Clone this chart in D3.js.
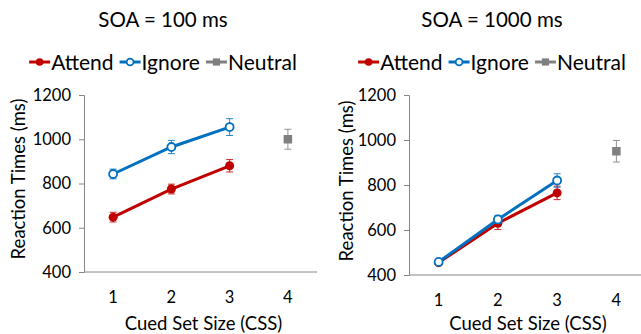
<!DOCTYPE html>
<html>
<head>
<meta charset="utf-8">
<script src="https://cdn.jsdelivr.net/npm/d3@7/dist/d3.min.js"></script>
<style>
  html, body { margin: 0; padding: 0; background: #fff; }
  svg { display: block; font-family: Lato, "Open Sans", sans-serif; }
</style>
</head>
<body>
<svg id="chart" width="641" height="334"></svg>
<script>
// Cued set size categories and y-axis ticks
const categories = ["1", "2", "3", "4"];
const yTicks = [400, 600, 800, 1000, 1200];

// SOA = 100 ms
const attend100 = [648, 775, 880];
const attendErr100 = [22, 22, 28];
const ignore100 = [843, 965, 1055];
const ignoreErr100 = [22, 30, 38];
const neutral100 = [1000];
const neutralErr100 = [45];

// SOA = 1000 ms
const attend1000 = [455, 630, 765];
const attendErr1000 = [10, 28, 30];
const ignore1000 = [458, 647, 820];
const ignoreErr1000 = [10, 18, 30];
const neutral1000 = [950];
const neutralErr1000 = [48];

const colors = { attend: "#C00000", ignore: "#0070C0", neutral: "#808080" };
const axisColor = "#868686";
const font = "Lato, 'Open Sans', sans-serif";

const panels = [
  { title: "SOA = 100 ms", left: 84, right: 317, top: 95, bottom: 272, center: 163,
    yLabelX: 25, yLabelY: 179, attend: attend100, attendErr: attendErr100,
    ignore: ignore100, ignoreErr: ignoreErr100, neutral: neutral100, neutralErr: neutralErr100 },
  { title: "SOA = 1000 ms", left: 409, right: 646, top: 95, bottom: 275, center: 492,
    yLabelX: 353, yLabelY: 181, attend: attend1000, attendErr: attendErr1000,
    ignore: ignore1000, ignoreErr: ignoreErr1000, neutral: neutral1000, neutralErr: neutralErr1000 }
];

const svg = d3.select("#chart");

panels.forEach(p => {
  const g = svg.append("g");
  const x = d3.scaleBand().domain(categories).range([p.left, p.right]);
  const cx = c => x(c) + x.bandwidth() / 2;
  const y = d3.scaleLinear().domain([400, 1200]).range([p.bottom, p.top]);

  // Title
  g.append("text").attr("x", p.center).attr("y", 27).attr("text-anchor", "middle")
    .attr("font-size", 20.5).attr("fill", "#000").text(p.title);

  // Y axis
  const yAxis = d3.axisLeft(y).tickValues(yTicks).tickFormat(d3.format("d")).tickSize(5).tickPadding(8);
  const ya = g.append("g").attr("transform", `translate(${p.left},0)`).call(yAxis);
  ya.select(".domain").attr("stroke", axisColor);
  ya.selectAll(".tick line").attr("stroke", axisColor);
  ya.selectAll(".tick text").attr("font-size", 16.5).attr("fill", "#000").attr("font-family", font);

  // X axis
  const xAxis = d3.axisBottom(x).tickSize(0).tickPadding(19);
  const xa = g.append("g").attr("transform", `translate(0,${p.bottom})`).call(xAxis);
  xa.select(".domain").attr("stroke", axisColor).attr("d", `M${p.left},0H${p.right}`);
  xa.selectAll(".tick text").attr("font-size", 16.5).attr("fill", "#000").attr("font-family", font);

  // Axis titles
  g.append("text").attr("x", (p.left + Math.min(p.right, 641)) / 2 + 3).attr("y", 330)
    .attr("text-anchor", "middle").attr("font-size", 18.5).text("Cued Set Size (CSS)");
  g.append("text").attr("transform", `translate(${p.yLabelX},${p.yLabelY}) rotate(-90)`)
    .attr("text-anchor", "middle").attr("font-size", 18.5).text("Reaction Times (ms)");

  const series = [
    { key: "attend", vals: p.attend, errs: p.attendErr, cats: categories.slice(0, 3) },
    { key: "ignore", vals: p.ignore, errs: p.ignoreErr, cats: categories.slice(0, 3) },
    { key: "neutral", vals: p.neutral, errs: p.neutralErr, cats: categories.slice(3) }
  ];

  series.forEach(s => {
    const col = colors[s.key];
    const pts = s.vals.map((v, i) => ({ c: s.cats[i], v, e: s.errs[i] }));
    // error bars
    const eb = g.append("g").attr("stroke", col).attr("stroke-width", 1).attr("opacity", 0.85);
    pts.forEach(d => {
      const X = cx(d.c);
      eb.append("line").attr("x1", X).attr("x2", X).attr("y1", y(d.v - d.e)).attr("y2", y(d.v + d.e));
      eb.append("line").attr("x1", X - 3.5).attr("x2", X + 3.5).attr("y1", y(d.v - d.e)).attr("y2", y(d.v - d.e));
      eb.append("line").attr("x1", X - 3.5).attr("x2", X + 3.5).attr("y1", y(d.v + d.e)).attr("y2", y(d.v + d.e));
    });
    if (pts.length > 1) {
      g.append("path").datum(pts)
        .attr("d", d3.line().x(d => cx(d.c)).y(d => y(d.v)))
        .attr("fill", "none").attr("stroke", col).attr("stroke-width", 3);
    }
    pts.forEach(d => drawMarker(g, s.key, cx(d.c), y(d.v)));
  });

  // Legend
  const items = [
    { key: "attend", label: "Attend" },
    { key: "ignore", label: "Ignore" },
    { key: "neutral", label: "Neutral" }
  ];
  const lg = g.append("g");
  let cursor = 0;
  const ly = 62;
  items.forEach(it => {
    const ig = lg.append("g").attr("transform", `translate(${cursor},0)`);
    ig.append("line").attr("x1", 0).attr("x2", 21).attr("y1", ly).attr("y2", ly)
      .attr("stroke", colors[it.key]).attr("stroke-width", 3);
    drawMarker(ig, it.key, 10.5, ly, 0.85);
    const t = ig.append("text").attr("x", 22).attr("y", ly + 7.5).attr("font-size", 21).text(it.label);
    cursor += 22 + t.node().getComputedTextLength() + 6;
  });
  const total = cursor - 6;
  lg.attr("transform", `translate(${p.center - total / 2},0)`);
});

function drawMarker(g, key, X, Y, k = 1) {
  const col = colors[key];
  if (key === "attend") {
    g.append("circle").attr("cx", X).attr("cy", Y).attr("r", 4.5 * k).attr("fill", col);
  } else if (key === "ignore") {
    g.append("circle").attr("cx", X).attr("cy", Y).attr("r", 4 * k).attr("fill", "#fff")
      .attr("stroke", col).attr("stroke-width", 1.8);
  } else {
    const s = 8.5 * k;
    g.append("rect").attr("x", X - s / 2).attr("y", Y - s / 2).attr("width", s).attr("height", s).attr("fill", col);
  }
}
</script>
</body>
</html>
